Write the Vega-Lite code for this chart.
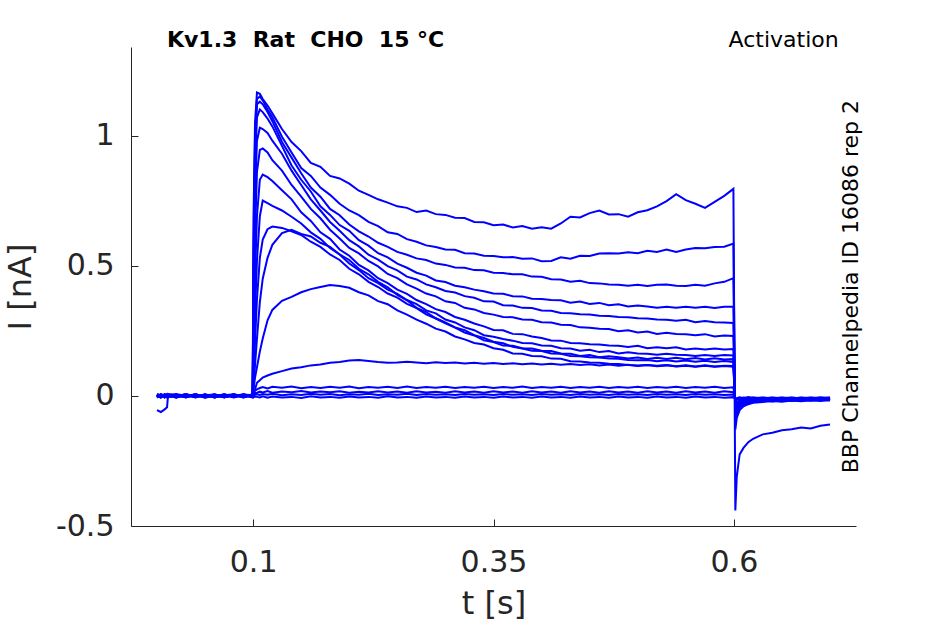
{
  "$schema": "https://vega.github.io/schema/vega-lite/v6.json",
  "width": 725,
  "height": 479,
  "autosize": "none",
  "padding": {"left": 131, "top": 47, "right": 89, "bottom": 98},
  "background": "white",
  "config": {
    "view": {"stroke": null},
    "font": "DejaVu Sans",
    "axis": {
      "grid": false,
      "domainColor": "#262626",
      "tickColor": "#262626",
      "labelColor": "#262626",
      "titleColor": "#262626",
      "labelFont": "DejaVu Sans",
      "titleFont": "DejaVu Sans",
      "labelFontSize": 30,
      "titleFontSize": 32,
      "titleFontWeight": "normal",
      "tickSize": -7,
      "domainWidth": 1,
      "tickWidth": 1
    }
  },
  "layer": [
    {
      "data": {
        "values": [
          {"t":0,"a":0.004,"b":-0.003,"c":0.006,"d":-0.005,"e":0.002,"f":0.007,"g":-0.002,"h":0.003,"i":-0.006,"j":0.001,"k":0.005,"l":-0.004,"m":0.002,"n":-0.007,"o":0.004,"p":-0.055},
          {"t":0.004,"a":-0.005,"b":0.006,"c":-0.002,"d":0.004,"e":-0.007,"f":0.001,"g":0.005,"h":-0.004,"i":0.003,"j":-0.006,"k":0.002,"l":0.007,"m":-0.003,"n":0.004,"o":-0.005,"p":-0.062},
          {"t":0.008,"a":0.006,"b":-0.001,"c":0.004,"d":-0.006,"e":0.005,"f":-0.004,"g":0.002,"h":0.006,"i":-0.003,"j":0.004,"k":-0.006,"l":0.001,"m":0.005,"n":-0.002,"o":0.003,"p":-0.052},
          {"t":0.0105,"a":0.001,"b":0.004,"c":-0.006,"d":0.002,"e":-0.003,"f":0.006,"g":-0.005,"h":0.001,"i":0.005,"j":-0.002,"k":0.003,"l":-0.005,"m":0.001,"n":0.006,"o":-0.004,"p":-0.044},
          {"t":0.0115,"a":-0.003,"b":0.002,"c":0.005,"d":-0.004,"e":0.006,"f":-0.002,"g":0.003,"h":-0.006,"i":0.001,"j":0.005,"k":-0.004,"l":0.002,"m":-0.006,"n":0.003,"o":0.005,"p":0.001},
          {"t":0.02,"a":0.005,"b":-0.006,"c":0.001,"d":0.006,"e":-0.004,"f":0.003,"g":-0.007,"h":0.004,"i":-0.002,"j":0.006,"k":-0.001,"l":-0.005,"m":0.004,"n":-0.003,"o":0.002,"p":-0.004},
          {"t":0.03,"a":-0.004,"b":0.003,"c":-0.005,"d":0.001,"e":0.006,"f":-0.006,"g":0.004,"h":-0.002,"i":0.007,"j":-0.004,"k":0.005,"l":0.002,"m":-0.005,"n":0.006,"o":-0.002,"p":0.003},
          {"t":0.04,"a":0.003,"b":-0.005,"c":0.006,"d":-0.003,"e":-0.001,"f":0.005,"g":-0.004,"h":0.006,"i":-0.005,"j":0.002,"k":-0.006,"l":0.004,"m":0.001,"n":-0.004,"o":0.006,"p":-0.002},
          {"t":0.05,"a":-0.006,"b":0.004,"c":-0.002,"d":0.005,"e":0.003,"f":-0.007,"g":0.006,"h":-0.003,"i":0.002,"j":-0.005,"k":0.004,"l":-0.001,"m":-0.004,"n":0.005,"o":-0.003,"p":0.004},
          {"t":0.06,"a":0.002,"b":-0.002,"c":0.005,"d":-0.006,"e":0.004,"f":0.001,"g":-0.003,"h":0.005,"i":-0.006,"j":0.003,"k":-0.002,"l":0.006,"m":0.003,"n":-0.006,"o":0.001,"p":-0.005},
          {"t":0.07,"a":-0.005,"b":0.006,"c":-0.004,"d":0.003,"e":-0.006,"f":0.004,"g":0.002,"h":-0.005,"i":0.004,"j":-0.001,"k":0.006,"l":-0.003,"m":-0.002,"n":0.004,"o":-0.005,"p":0.002},
          {"t":0.08,"a":0.006,"b":-0.004,"c":0.002,"d":-0.002,"e":0.005,"f":-0.005,"g":0.006,"h":0.001,"i":-0.004,"j":0.005,"k":-0.003,"l":0.002,"m":0.005,"n":-0.001,"o":0.003,"p":-0.006},
          {"t":0.09,"a":-0.002,"b":0.005,"c":-0.006,"d":0.004,"e":-0.003,"f":0.006,"g":-0.004,"h":0.003,"i":0.005,"j":-0.006,"k":0.001,"l":-0.004,"m":-0.003,"n":0.006,"o":-0.004,"p":0.003},
          {"t":0.0995,"a":0.003,"b":-0.002,"c":0.004,"d":-0.005,"e":0.001,"f":-0.003,"g":0.005,"h":-0.006,"i":0.002,"j":0.004,"k":-0.005,"l":0.006,"m":0.002,"n":-0.004,"o":0.005,"p":-0.003},
          {"t":0.1005,"a":0.7,"b":0.6,"c":0.52,"d":0.45,"e":0.35,"f":0.25,"g":0.15,"h":0.1,"i":0.06,"j":0.04,"k":0.03,"l":0.01,"m":0.01,"n":0.005,"o":0,"p":-0.005},
          {"t":0.102,"a":1.05,"b":1.0,"c":0.95,"d":0.88,"e":0.76,"f":0.62,"g":0.46,"h":0.32,"i":0.21,"j":0.12,"k":0.07,"l":0.025,"m":0.02,"n":0.01,"o":0.004,"p":-0.003},
          {"t":0.104,"a":1.165,"b":1.14,"c":1.12,"d":1.07,"e":0.98,"f":0.86,"g":0.69,"h":0.52,"i":0.37,"j":0.22,"k":0.11,"l":0.05,"m":0.025,"n":0.012,"o":0.006,"p":-0.004},
          {"t":0.107,"a":1.16,"b":1.15,"c":1.13,"d":1.1,"e":1.03,"f":0.945,"g":0.83,"h":0.69,"i":0.53,"j":0.36,"k":0.17,"l":0.06,"m":0.03,"n":0.016,"o":0.003,"p":-0.006},
          {"t":0.11,"a":1.14,"b":1.135,"c":1.12,"d":1.09,"e":1.025,"f":0.95,"g":0.85,"h":0.75,"i":0.6,"j":0.45,"k":0.22,"l":0.07,"m":0.034,"n":0.013,"o":0.007,"p":-0.002},
          {"t":0.115,"a":1.115,"b":1.1,"c":1.09,"d":1.065,"e":1.01,"f":0.935,"g":0.84,"h":0.74,"i":0.64,"j":0.53,"k":0.29,"l":0.078,"m":0.028,"n":0.018,"o":0.004,"p":-0.007},
          {"t":0.12,"a":1.085,"b":1.07,"c":1.055,"d":1.035,"e":0.98,"f":0.905,"g":0.825,"h":0.73,"i":0.65,"j":0.58,"k":0.33,"l":0.085,"m":0.035,"n":0.012,"o":0.008,"p":-0.003},
          {"t":0.13,"a":1.025,"b":0.995,"c":0.975,"d":0.96,"e":0.93,"f":0.865,"g":0.79,"h":0.712,"i":0.645,"j":0.625,"k":0.365,"l":0.095,"m":0.031,"n":0.017,"o":0.002,"p":-0.006},
          {"t":0.14,"a":0.975,"b":0.935,"c":0.915,"d":0.885,"e":0.865,"f":0.81,"g":0.755,"h":0.688,"i":0.632,"j":0.638,"k":0.38,"l":0.105,"m":0.036,"n":0.014,"o":0.006,"p":-0.004},
          {"t":0.15,"a":0.94,"b":0.875,"c":0.855,"d":0.83,"e":0.81,"f":0.765,"g":0.705,"h":0.662,"i":0.618,"j":0.622,"k":0.398,"l":0.11,"m":0.029,"n":0.019,"o":0.003,"p":-0.008},
          {"t":0.16,"a":0.895,"b":0.845,"c":0.8,"d":0.785,"e":0.755,"f":0.718,"g":0.672,"h":0.628,"i":0.592,"j":0.612,"k":0.41,"l":0.117,"m":0.034,"n":0.013,"o":0.008,"p":-0.002},
          {"t":0.17,"a":0.88,"b":0.8,"c":0.765,"d":0.728,"e":0.712,"f":0.682,"g":0.628,"h":0.603,"i":0.572,"j":0.588,"k":0.418,"l":0.12,"m":0.03,"n":0.017,"o":0.004,"p":-0.006},
          {"t":0.18,"a":0.845,"b":0.772,"c":0.718,"d":0.695,"e":0.668,"f":0.638,"g":0.603,"h":0.568,"i":0.543,"j":0.572,"k":0.426,"l":0.127,"m":0.035,"n":0.014,"o":0.007,"p":-0.004},
          {"t":0.19,"a":0.835,"b":0.738,"c":0.694,"d":0.656,"e":0.634,"f":0.604,"g":0.562,"h":0.543,"i":0.522,"j":0.543,"k":0.422,"l":0.13,"m":0.031,"n":0.018,"o":0.002,"p":-0.007},
          {"t":0.2,"a":0.815,"b":0.712,"c":0.658,"d":0.634,"e":0.598,"f":0.568,"g":0.538,"h":0.508,"i":0.488,"j":0.522,"k":0.415,"l":0.136,"m":0.036,"n":0.012,"o":0.006,"p":-0.003},
          {"t":0.21,"a":0.788,"b":0.694,"c":0.632,"d":0.598,"e":0.574,"f":0.547,"g":0.503,"h":0.483,"i":0.467,"j":0.488,"k":0.398,"l":0.138,"m":0.029,"n":0.016,"o":0.004,"p":-0.006},
          {"t":0.22,"a":0.772,"b":0.668,"c":0.612,"d":0.577,"e":0.542,"f":0.518,"g":0.482,"h":0.452,"i":0.438,"j":0.467,"k":0.386,"l":0.134,"m":0.034,"n":0.013,"o":0.008,"p":-0.004},
          {"t":0.23,"a":0.755,"b":0.652,"c":0.588,"d":0.548,"e":0.523,"f":0.497,"g":0.452,"h":0.433,"i":0.418,"j":0.438,"k":0.364,"l":0.13,"m":0.031,"n":0.018,"o":0.003,"p":-0.007},
          {"t":0.24,"a":0.742,"b":0.628,"c":0.572,"d":0.532,"e":0.498,"f":0.468,"g":0.433,"h":0.408,"i":0.393,"j":0.417,"k":0.352,"l":0.127,"m":0.035,"n":0.013,"o":0.006,"p":-0.002},
          {"t":0.25,"a":0.728,"b":0.622,"c":0.553,"d":0.508,"e":0.482,"f":0.452,"g":0.408,"h":0.392,"i":0.377,"j":0.388,"k":0.328,"l":0.128,"m":0.03,"n":0.017,"o":0.004,"p":-0.006},
          {"t":0.26,"a":0.722,"b":0.602,"c":0.542,"d":0.492,"e":0.458,"f":0.428,"g":0.392,"h":0.368,"i":0.353,"j":0.367,"k":0.312,"l":0.131,"m":0.036,"n":0.012,"o":0.008,"p":-0.004},
          {"t":0.27,"a":0.706,"b":0.592,"c":0.528,"d":0.473,"e":0.447,"f":0.412,"g":0.368,"h":0.352,"i":0.337,"j":0.338,"k":0.293,"l":0.128,"m":0.03,"n":0.018,"o":0.003,"p":-0.007},
          {"t":0.28,"a":0.712,"b":0.578,"c":0.522,"d":0.462,"e":0.428,"f":0.393,"g":0.352,"h":0.328,"i":0.313,"j":0.322,"k":0.277,"l":0.125,"m":0.034,"n":0.013,"o":0.007,"p":-0.003},
          {"t":0.29,"a":0.698,"b":0.572,"c":0.508,"d":0.443,"e":0.417,"f":0.382,"g":0.333,"h":0.317,"i":0.297,"j":0.298,"k":0.258,"l":0.129,"m":0.031,"n":0.016,"o":0.004,"p":-0.006},
          {"t":0.3,"a":0.695,"b":0.562,"c":0.503,"d":0.437,"e":0.403,"f":0.363,"g":0.322,"h":0.293,"i":0.278,"j":0.282,"k":0.247,"l":0.126,"m":0.035,"n":0.012,"o":0.006,"p":-0.004},
          {"t":0.31,"a":0.684,"b":0.561,"c":0.493,"d":0.423,"e":0.397,"f":0.357,"g":0.303,"h":0.282,"i":0.262,"j":0.263,"k":0.228,"l":0.128,"m":0.03,"n":0.018,"o":0.003,"p":-0.007},
          {"t":0.32,"a":0.683,"b":0.548,"c":0.492,"d":0.417,"e":0.383,"f":0.338,"g":0.292,"h":0.263,"i":0.243,"j":0.252,"k":0.217,"l":0.124,"m":0.034,"n":0.013,"o":0.007,"p":-0.003},
          {"t":0.33,"a":0.668,"b":0.547,"c":0.483,"d":0.408,"e":0.377,"f":0.332,"g":0.278,"h":0.252,"i":0.232,"j":0.233,"k":0.203,"l":0.127,"m":0.031,"n":0.017,"o":0.004,"p":-0.006},
          {"t":0.34,"a":0.667,"b":0.538,"c":0.482,"d":0.402,"e":0.363,"f":0.318,"g":0.267,"h":0.233,"i":0.213,"j":0.222,"k":0.197,"l":0.123,"m":0.035,"n":0.012,"o":0.006,"p":-0.004},
          {"t":0.35,"a":0.655,"b":0.537,"c":0.473,"d":0.393,"e":0.362,"f":0.312,"g":0.253,"h":0.227,"i":0.207,"j":0.208,"k":0.183,"l":0.126,"m":0.03,"n":0.018,"o":0.003,"p":-0.007},
          {"t":0.36,"a":0.658,"b":0.532,"c":0.472,"d":0.392,"e":0.348,"f":0.303,"g":0.252,"h":0.218,"i":0.193,"j":0.202,"k":0.177,"l":0.122,"m":0.034,"n":0.013,"o":0.007,"p":-0.003},
          {"t":0.37,"a":0.647,"b":0.533,"c":0.467,"d":0.383,"e":0.347,"f":0.302,"g":0.238,"h":0.212,"i":0.192,"j":0.188,"k":0.163,"l":0.125,"m":0.031,"n":0.017,"o":0.004,"p":-0.006},
          {"t":0.38,"a":0.652,"b":0.527,"c":0.467,"d":0.382,"e":0.338,"f":0.293,"g":0.237,"h":0.203,"i":0.183,"j":0.182,"k":0.162,"l":0.121,"m":0.036,"n":0.012,"o":0.006,"p":-0.004},
          {"t":0.39,"a":0.642,"b":0.528,"c":0.458,"d":0.373,"e":0.337,"f":0.292,"g":0.228,"h":0.202,"i":0.182,"j":0.173,"k":0.153,"l":0.124,"m":0.03,"n":0.018,"o":0.003,"p":-0.007},
          {"t":0.4,"a":0.648,"b":0.517,"c":0.457,"d":0.372,"e":0.328,"f":0.283,"g":0.222,"h":0.193,"i":0.173,"j":0.172,"k":0.152,"l":0.12,"m":0.034,"n":0.013,"o":0.007,"p":-0.003},
          {"t":0.41,"a":0.642,"b":0.518,"c":0.448,"d":0.368,"e":0.327,"f":0.282,"g":0.213,"h":0.192,"i":0.172,"j":0.163,"k":0.143,"l":0.123,"m":0.031,"n":0.017,"o":0.004,"p":-0.006},
          {"t":0.42,"a":0.662,"b":0.532,"c":0.447,"d":0.367,"e":0.318,"f":0.273,"g":0.212,"h":0.183,"i":0.163,"j":0.162,"k":0.142,"l":0.119,"m":0.035,"n":0.012,"o":0.006,"p":-0.004},
          {"t":0.43,"a":0.688,"b":0.527,"c":0.438,"d":0.358,"e":0.317,"f":0.272,"g":0.203,"h":0.182,"i":0.162,"j":0.153,"k":0.133,"l":0.122,"m":0.03,"n":0.018,"o":0.003,"p":-0.007},
          {"t":0.44,"a":0.685,"b":0.538,"c":0.442,"d":0.362,"e":0.313,"f":0.263,"g":0.202,"h":0.173,"i":0.153,"j":0.152,"k":0.132,"l":0.118,"m":0.034,"n":0.013,"o":0.007,"p":-0.003},
          {"t":0.45,"a":0.702,"b":0.537,"c":0.433,"d":0.353,"e":0.312,"f":0.262,"g":0.198,"h":0.177,"i":0.157,"j":0.148,"k":0.128,"l":0.121,"m":0.031,"n":0.017,"o":0.004,"p":-0.006},
          {"t":0.46,"a":0.712,"b":0.547,"c":0.432,"d":0.357,"e":0.308,"f":0.258,"g":0.197,"h":0.168,"i":0.148,"j":0.147,"k":0.127,"l":0.117,"m":0.035,"n":0.012,"o":0.006,"p":-0.004},
          {"t":0.47,"a":0.697,"b":0.548,"c":0.428,"d":0.348,"e":0.307,"f":0.257,"g":0.193,"h":0.172,"i":0.152,"j":0.143,"k":0.123,"l":0.12,"m":0.03,"n":0.018,"o":0.003,"p":-0.007},
          {"t":0.48,"a":0.698,"b":0.547,"c":0.427,"d":0.352,"e":0.303,"f":0.248,"g":0.192,"h":0.163,"i":0.148,"j":0.142,"k":0.122,"l":0.116,"m":0.034,"n":0.013,"o":0.007,"p":-0.003},
          {"t":0.49,"a":0.688,"b":0.552,"c":0.423,"d":0.343,"e":0.302,"f":0.252,"g":0.188,"h":0.167,"i":0.143,"j":0.138,"k":0.118,"l":0.119,"m":0.031,"n":0.017,"o":0.004,"p":-0.006},
          {"t":0.5,"a":0.705,"b":0.548,"c":0.427,"d":0.347,"e":0.298,"f":0.243,"g":0.192,"h":0.163,"i":0.147,"j":0.137,"k":0.117,"l":0.115,"m":0.035,"n":0.012,"o":0.006,"p":-0.004},
          {"t":0.51,"a":0.713,"b":0.557,"c":0.422,"d":0.343,"e":0.297,"f":0.247,"g":0.183,"h":0.162,"i":0.142,"j":0.138,"k":0.118,"l":0.118,"m":0.03,"n":0.018,"o":0.003,"p":-0.007},
          {"t":0.52,"a":0.728,"b":0.553,"c":0.427,"d":0.338,"e":0.293,"f":0.238,"g":0.187,"h":0.158,"i":0.146,"j":0.133,"k":0.116,"l":0.114,"m":0.034,"n":0.013,"o":0.007,"p":-0.003},
          {"t":0.53,"a":0.748,"b":0.562,"c":0.428,"d":0.342,"e":0.292,"f":0.242,"g":0.183,"h":0.162,"i":0.142,"j":0.137,"k":0.118,"l":0.117,"m":0.031,"n":0.017,"o":0.004,"p":-0.006},
          {"t":0.54,"a":0.775,"b":0.553,"c":0.423,"d":0.338,"e":0.288,"f":0.238,"g":0.187,"h":0.158,"i":0.146,"j":0.132,"k":0.114,"l":0.113,"m":0.035,"n":0.012,"o":0.006,"p":-0.004},
          {"t":0.55,"a":0.752,"b":0.562,"c":0.422,"d":0.342,"e":0.292,"f":0.237,"g":0.178,"h":0.157,"i":0.141,"j":0.136,"k":0.117,"l":0.116,"m":0.03,"n":0.018,"o":0.003,"p":-0.007},
          {"t":0.56,"a":0.738,"b":0.568,"c":0.427,"d":0.338,"e":0.283,"f":0.233,"g":0.182,"h":0.153,"i":0.145,"j":0.131,"k":0.113,"l":0.112,"m":0.034,"n":0.013,"o":0.007,"p":-0.003},
          {"t":0.57,"a":0.722,"b":0.567,"c":0.423,"d":0.342,"e":0.287,"f":0.237,"g":0.178,"h":0.157,"i":0.14,"j":0.135,"k":0.117,"l":0.116,"m":0.031,"n":0.017,"o":0.004,"p":-0.006},
          {"t":0.58,"a":0.745,"b":0.572,"c":0.432,"d":0.337,"e":0.283,"f":0.228,"g":0.182,"h":0.153,"i":0.144,"j":0.13,"k":0.113,"l":0.112,"m":0.035,"n":0.012,"o":0.006,"p":-0.004},
          {"t":0.59,"a":0.768,"b":0.573,"c":0.438,"d":0.342,"e":0.282,"f":0.232,"g":0.178,"h":0.157,"i":0.14,"j":0.134,"k":0.116,"l":0.115,"m":0.03,"n":0.018,"o":0.003,"p":-0.007},
          {"t":0.5995,"a":0.795,"b":0.585,"c":0.452,"d":0.342,"e":0.28,"f":0.23,"g":0.18,"h":0.155,"i":0.141,"j":0.13,"k":0.115,"l":0.112,"m":0.033,"n":0.014,"o":0.005,"p":-0.005},
          {"t":0.6015,"a":-0.44,"b":-0.13,"c":-0.11,"d":-0.09,"e":-0.075,"f":-0.065,"g":-0.055,"h":-0.05,"i":-0.045,"j":-0.045,"k":-0.04,"l":-0.035,"m":-0.02,"n":-0.015,"o":-0.012,"p":-0.012},
          {"t":0.603,"a":-0.31,"b":-0.085,"c":-0.07,"d":-0.055,"e":-0.05,"f":-0.042,"g":-0.038,"h":-0.033,"i":-0.03,"j":-0.03,"k":-0.027,"l":-0.024,"m":-0.015,"n":-0.012,"o":-0.01,"p":-0.009},
          {"t":0.606,"a":-0.225,"b":-0.055,"c":-0.045,"d":-0.037,"e":-0.033,"f":-0.028,"g":-0.026,"h":-0.024,"i":-0.022,"j":-0.021,"k":-0.02,"l":-0.018,"m":-0.012,"n":-0.008,"o":-0.01,"p":-0.006},
          {"t":0.61,"a":-0.2,"b":-0.04,"c":-0.034,"d":-0.028,"e":-0.025,"f":-0.022,"g":-0.02,"h":-0.017,"i":-0.019,"j":-0.016,"k":-0.015,"l":-0.014,"m":-0.008,"n":-0.011,"o":-0.006,"p":-0.009},
          {"t":0.615,"a":-0.178,"b":-0.032,"c":-0.027,"d":-0.024,"e":-0.02,"f":-0.018,"g":-0.016,"h":-0.019,"i":-0.014,"j":-0.015,"k":-0.012,"l":-0.016,"m":-0.01,"n":-0.007,"o":-0.009,"p":-0.005},
          {"t":0.62,"a":-0.165,"b":-0.027,"c":-0.023,"d":-0.02,"e":-0.018,"f":-0.021,"g":-0.014,"h":-0.016,"i":-0.017,"j":-0.012,"k":-0.015,"l":-0.011,"m":-0.007,"n":-0.01,"o":-0.006,"p":-0.008},
          {"t":0.63,"a":-0.148,"b":-0.024,"c":-0.018,"d":-0.021,"e":-0.015,"f":-0.017,"g":-0.019,"h":-0.013,"i":-0.015,"j":-0.016,"k":-0.011,"l":-0.014,"m":-0.009,"n":-0.006,"o":-0.01,"p":-0.007},
          {"t":0.64,"a":-0.142,"b":-0.02,"c":-0.022,"d":-0.016,"e":-0.019,"f":-0.014,"g":-0.015,"h":-0.018,"i":-0.012,"j":-0.014,"k":-0.016,"l":-0.01,"m":-0.006,"n":-0.01,"o":-0.007,"p":-0.009},
          {"t":0.65,"a":-0.132,"b":-0.023,"c":-0.017,"d":-0.019,"e":-0.014,"f":-0.018,"g":-0.012,"h":-0.015,"i":-0.016,"j":-0.011,"k":-0.013,"l":-0.015,"m":-0.01,"n":-0.007,"o":-0.009,"p":-0.006},
          {"t":0.66,"a":-0.128,"b":-0.018,"c":-0.02,"d":-0.015,"e":-0.017,"f":-0.013,"g":-0.016,"h":-0.012,"i":-0.014,"j":-0.017,"k":-0.01,"l":-0.012,"m":-0.007,"n":-0.011,"o":-0.006,"p":-0.009},
          {"t":0.67,"a":-0.122,"b":-0.021,"c":-0.016,"d":-0.018,"e":-0.013,"f":-0.016,"g":-0.013,"h":-0.016,"i":-0.011,"j":-0.013,"k":-0.015,"l":-0.01,"m":-0.009,"n":-0.006,"o":-0.01,"p":-0.007},
          {"t":0.68,"a":-0.125,"b":-0.017,"c":-0.019,"d":-0.014,"e":-0.016,"f":-0.012,"g":-0.015,"h":-0.013,"i":-0.015,"j":-0.01,"k":-0.012,"l":-0.014,"m":-0.006,"n":-0.009,"o":-0.007,"p":-0.01},
          {"t":0.69,"a":-0.115,"b":-0.02,"c":-0.015,"d":-0.017,"e":-0.012,"f":-0.015,"g":-0.011,"h":-0.016,"i":-0.012,"j":-0.014,"k":-0.01,"l":-0.011,"m":-0.009,"n":-0.006,"o":-0.009,"p":-0.006},
          {"t":0.7,"a":-0.11,"b":-0.016,"c":-0.018,"d":-0.013,"e":-0.015,"f":-0.012,"g":-0.014,"h":-0.011,"i":-0.013,"j":-0.01,"k":-0.013,"l":-0.01,"m":-0.007,"n":-0.01,"o":-0.006,"p":-0.008}
        ]
      },
      "transform": [
        {"fold": ["a","b","c","d","e","f","g","h","i","j","k","l","m","n","o","p"], "as": ["trace","I"]}
      ],
      "mark": {"type": "line", "color": "#0000ff", "strokeWidth": 2},
      "encoding": {
        "x": {
          "field": "t",
          "type": "quantitative",
          "scale": {"domain": [-0.027, 0.727], "nice": false, "zero": false},
          "axis": {"values": [0.1, 0.35, 0.6], "title": "t [s]", "format": "~g", "labelFontSize": 30, "titleFontSize": 32, "labelPadding": 28, "titlePadding": 11}
        },
        "y": {
          "field": "I",
          "type": "quantitative",
          "scale": {"domain": [-0.5, 1.34], "nice": false, "zero": false},
          "axis": {"values": [-0.5, 0, 0.5, 1], "title": "I [nA]", "format": "~g", "labelFontSize": 30, "titleFontSize": 32, "labelPadding": 24, "titlePadding": 18, "labelExpr": "replace(datum.label, '−', '-')"}
        },
        "detail": {"field": "trace"}
      }
    },
    {
      "data": {"values": [{"label": "Kv1.3 \u00a0Rat \u00a0CHO \u00a015 °C"}]},
      "mark": {"type": "text", "align": "left", "baseline": "alphabetic", "fontSize": 22, "fontWeight": "bold", "color": "#000000", "font": "DejaVu Sans"},
      "encoding": {
        "x": {"datum": 0.0104, "type": "quantitative"},
        "y": {"datum": 1.341, "type": "quantitative"},
        "text": {"field": "label"}
      }
    },
    {
      "data": {"values": [{"label": "Activation"}]},
      "mark": {"type": "text", "align": "right", "baseline": "alphabetic", "fontSize": 22, "color": "#000000", "font": "DejaVu Sans"},
      "encoding": {
        "x": {"datum": 0.709, "type": "quantitative"},
        "y": {"datum": 1.341, "type": "quantitative"},
        "text": {"field": "label"}
      }
    },
    {
      "data": {"values": [{"label": "BBP Channelpedia ID 16086 rep 2"}]},
      "mark": {"type": "text", "align": "center", "baseline": "alphabetic", "angle": 270, "fontSize": 22, "color": "#000000", "font": "DejaVu Sans"},
      "encoding": {
        "x": {"datum": 0.729, "type": "quantitative"},
        "y": {"datum": 0.4195, "type": "quantitative"},
        "text": {"field": "label"}
      }
    }
  ]
}
